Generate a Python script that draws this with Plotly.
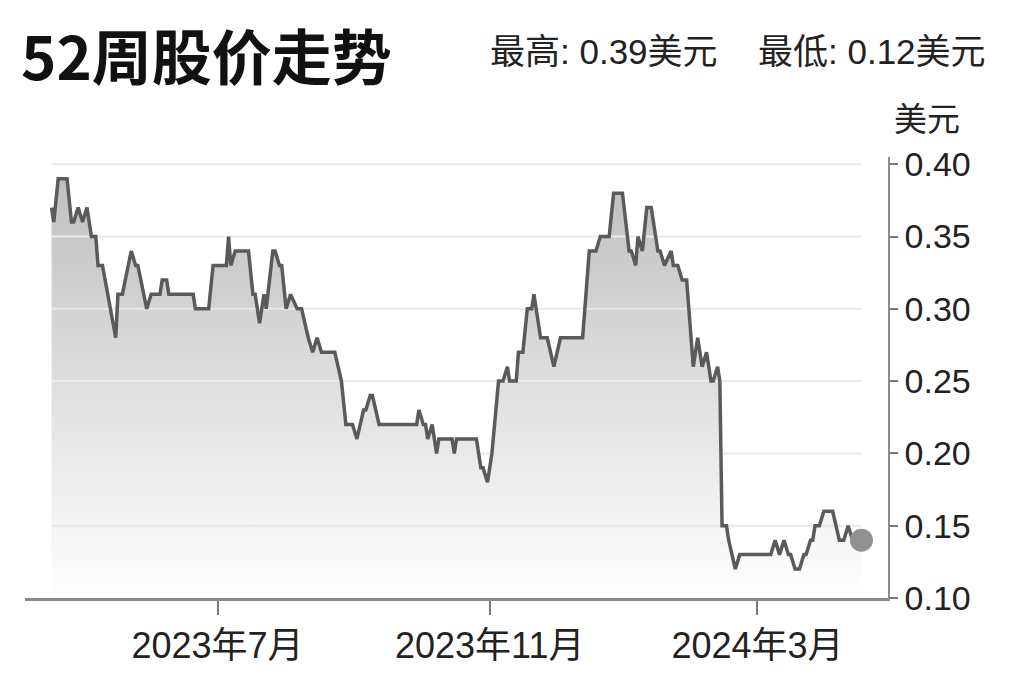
import plotly.graph_objects as go

# ---- data ----
dates = [
    "2023-04-17", "2023-04-18", "2023-04-20", "2023-04-24", "2023-04-26", "2023-04-27",
    "2023-04-29", "2023-05-01", "2023-05-03", "2023-05-05", "2023-05-07", "2023-05-08",
    "2023-05-10", "2023-05-16", "2023-05-17", "2023-05-19", "2023-05-23", "2023-05-25",
    "2023-05-26", "2023-05-30", "2023-06-01", "2023-06-05", "2023-06-06", "2023-06-08",
    "2023-06-09", "2023-06-20", "2023-06-21", "2023-06-27", "2023-06-29", "2023-07-05",
    "2023-07-06", "2023-07-07", "2023-07-09", "2023-07-15", "2023-07-17", "2023-07-18",
    "2023-07-20", "2023-07-22", "2023-07-23", "2023-07-26", "2023-07-27", "2023-07-29",
    "2023-07-30", "2023-08-01", "2023-08-03", "2023-08-06", "2023-08-08", "2023-08-11",
    "2023-08-13", "2023-08-15", "2023-08-17", "2023-08-23", "2023-08-26", "2023-08-28",
    "2023-08-31", "2023-09-02", "2023-09-05", "2023-09-06", "2023-09-08", "2023-09-09",
    "2023-09-12", "2023-09-29", "2023-09-30", "2023-10-02", "2023-10-03", "2023-10-04",
    "2023-10-06", "2023-10-08", "2023-10-09", "2023-10-15", "2023-10-16", "2023-10-17",
    "2023-10-26", "2023-10-28", "2023-10-29", "2023-10-31", "2023-11-02", "2023-11-05",
    "2023-11-07", "2023-11-09", "2023-11-10", "2023-11-13", "2023-11-14", "2023-11-16",
    "2023-11-18", "2023-11-20", "2023-11-21", "2023-11-24", "2023-11-27", "2023-11-30",
    "2023-12-03", "2023-12-13", "2023-12-16", "2023-12-19", "2023-12-21", "2023-12-25",
    "2023-12-27", "2023-12-31", "2024-01-03", "2024-01-04", "2024-01-06", "2024-01-07",
    "2024-01-09", "2024-01-11", "2024-01-13", "2024-01-16", "2024-01-17", "2024-01-19",
    "2024-01-22", "2024-01-23", "2024-01-25", "2024-01-27", "2024-01-29", "2024-02-01",
    "2024-02-03", "2024-02-05", "2024-02-07", "2024-02-09", "2024-02-10", "2024-02-12",
    "2024-02-13", "2024-02-14", "2024-02-16", "2024-02-17", "2024-02-20", "2024-02-22",
    "2024-03-07", "2024-03-09", "2024-03-11", "2024-03-13", "2024-03-15", "2024-03-16",
    "2024-03-18", "2024-03-20", "2024-03-22", "2024-03-23", "2024-03-25", "2024-03-26",
    "2024-03-27", "2024-03-29", "2024-03-31", "2024-04-04", "2024-04-07", "2024-04-09",
    "2024-04-11", "2024-04-13", "2024-04-17",
]
prices = [
    0.37, 0.36, 0.39, 0.39, 0.36, 0.36,
    0.37, 0.36, 0.37, 0.35, 0.35, 0.33,
    0.33, 0.28, 0.31, 0.31, 0.34, 0.33,
    0.33, 0.30, 0.31, 0.31, 0.32, 0.32,
    0.31, 0.31, 0.30, 0.30, 0.33, 0.33,
    0.35, 0.33, 0.34, 0.34, 0.31, 0.31,
    0.29, 0.31, 0.30, 0.34, 0.34, 0.33,
    0.33, 0.30, 0.31, 0.30, 0.30, 0.28,
    0.27, 0.28, 0.27, 0.27, 0.25, 0.22,
    0.22, 0.21, 0.23, 0.23, 0.24, 0.24,
    0.22, 0.22, 0.23, 0.22, 0.22, 0.21,
    0.22, 0.20, 0.21, 0.21, 0.20, 0.21,
    0.21, 0.19, 0.19, 0.18, 0.20, 0.25,
    0.25, 0.26, 0.25, 0.25, 0.27, 0.27,
    0.30, 0.30, 0.31, 0.28, 0.28, 0.26,
    0.28, 0.28, 0.34, 0.34, 0.35, 0.35,
    0.38, 0.38, 0.34, 0.34, 0.33, 0.35,
    0.34, 0.37, 0.37, 0.34, 0.34, 0.33,
    0.34, 0.33, 0.33, 0.32, 0.32, 0.26,
    0.28, 0.26, 0.27, 0.25, 0.25, 0.26,
    0.25, 0.15, 0.15, 0.14, 0.12, 0.13,
    0.13, 0.14, 0.13, 0.14, 0.13, 0.13,
    0.12, 0.12, 0.13, 0.13, 0.14, 0.14,
    0.15, 0.15, 0.16, 0.16, 0.14, 0.14,
    0.15, 0.14, 0.14,
]

x_tick_vals = ["2023-07-01", "2023-11-01", "2024-03-01"]
x_tick_text = ["2023年7月", "2023年11月", "2024年3月"]
y_tick_vals = [0.10, 0.15, 0.20, 0.25, 0.30, 0.35, 0.40]
y_tick_text = ["0.10", "0.15", "0.20", "0.25", "0.30", "0.35", "0.40"]
x_range = ["2023-04-05", "2024-04-29"]
y_range = [0.10, 0.405]

title_text = "52周股价走势"
high_text = "最高: 0.39美元"
low_text = "最低: 0.12美元"
unit_text = "美元"

FONT = "Liberation Sans, Noto Sans CJK SC, sans-serif"
CJK = "Noto Sans CJK SC, sans-serif"

# the page body has an 8px default margin; compensate so the plot lands where intended
OFF = 8
W, H = 1024, 682
PL, PR, PT, PB = 25, 888, 157, 598  # desired plot area in window pixels

fig = go.Figure()

# gradient area under the line
fig.add_trace(go.Scatter(
    x=dates, y=prices, mode="none", fill="tozeroy",
    fillgradient=dict(type="vertical", start=0.10, stop=0.40,
                      colorscale=[[0, "#ffffff"], [1, "#bdbdbd"]]),
    hoverinfo="skip",
))

# light gridlines spanning the data range, over the fill
for v in y_tick_vals[1:]:
    fig.add_trace(go.Scatter(
        x=[dates[0], dates[-1]], y=[v, v], mode="lines",
        line=dict(color="#e9e9e9", width=2), hoverinfo="skip",
    ))

# price line
fig.add_trace(go.Scatter(
    x=dates, y=prices, mode="lines",
    line=dict(color="#5a5a5a", width=3.5), hoverinfo="skip",
))

# end marker
fig.add_trace(go.Scatter(
    x=[dates[-1]], y=[prices[-1]], mode="markers",
    marker=dict(size=23, color="#909090"), hoverinfo="skip",
))

pw = PR - PL
ph = PB - PT


def px_x(x):
    return (x - PL) / pw


def px_y(y):
    return (PB - y) / ph


fig.update_layout(
    width=W, height=H,
    margin=dict(l=PL - OFF, r=W - PR + OFF, t=PT - OFF, b=H - PB + OFF),
    paper_bgcolor="white", plot_bgcolor="white",
    showlegend=False, hovermode=False,
    xaxis=dict(
        type="date", range=x_range, showgrid=False, zeroline=False,
        tickmode="array", tickvals=x_tick_vals, ticktext=x_tick_text,
        ticks="outside", ticklen=14, tickwidth=1.5, tickcolor="#7a7a7a",
        showline=True, linecolor="#8a8a8a", linewidth=2.5, automargin=False,
        tickfont=dict(family=FONT, size=36, color="#222222"),
    ),
    yaxis=dict(
        side="right", range=y_range, showgrid=False, zeroline=False,
        tickmode="array", tickvals=y_tick_vals, ticktext=y_tick_text,
        ticks="outside", ticklen=8, tickwidth=1.5, tickcolor="#7a7a7a",
        showline=True, linecolor="#8a8a8a", linewidth=1.5, automargin=False,
        tickfont=dict(family=FONT, size=34, color="#222222"),
    ),
    annotations=[
        dict(text="<b>" + title_text + "</b>", xref="paper", yref="paper",
             x=px_x(19), y=px_y(53), xanchor="left", yanchor="middle",
             showarrow=False, font=dict(family=CJK, size=60, color="#111111")),
        dict(text=high_text, xref="paper", yref="paper",
             x=px_x(488), y=px_y(51), xanchor="left", yanchor="middle",
             showarrow=False, font=dict(family=FONT, size=35, color="#222222")),
        dict(text=low_text, xref="paper", yref="paper",
             x=px_x(988), y=px_y(51), xanchor="right", yanchor="middle",
             showarrow=False, font=dict(family=FONT, size=35, color="#222222")),
        dict(text=unit_text, xref="paper", yref="paper",
             x=px_x(927), y=px_y(119), xanchor="center", yanchor="middle",
             showarrow=False, font=dict(family=FONT, size=33, color="#222222")),
    ],
)

fig.write_html("out.html")
